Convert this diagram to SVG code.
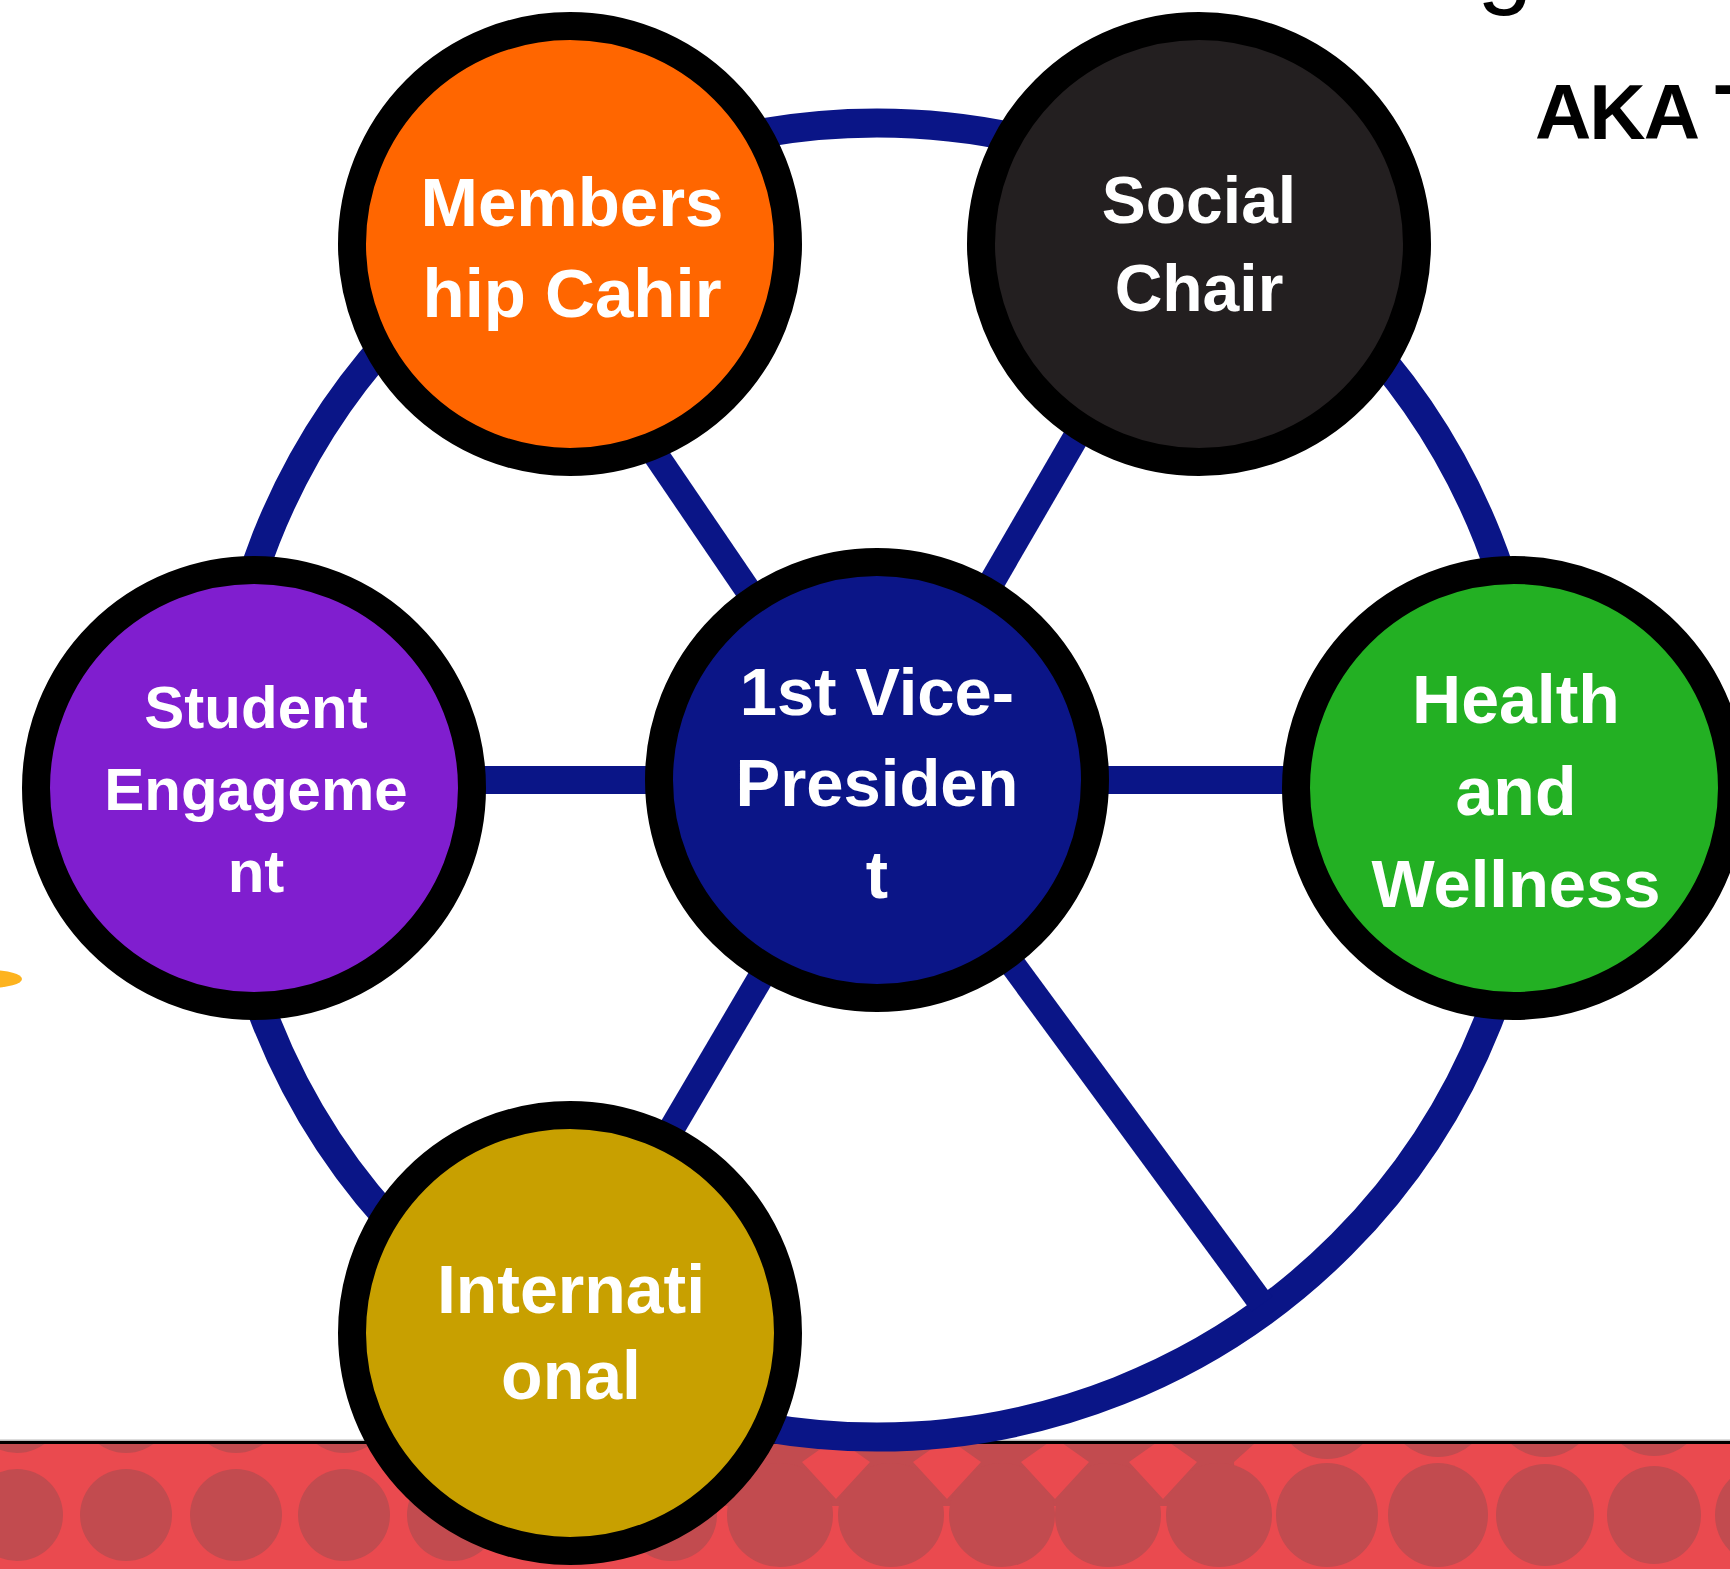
<svg xmlns="http://www.w3.org/2000/svg" width="1730" height="1569" viewBox="0 0 1730 1569">
<style>
.dot{fill:#C24B4F}
.lite{fill:#EA4A4F}
.ring{fill:none;stroke:#0A1587;stroke-width:29}
.spoke{stroke:#0A1587;stroke-width:26;stroke-linecap:butt}
.hspoke{stroke:#0A1587;stroke-width:28}
.node{stroke:#000;stroke-width:28}
.lbl{font-family:"Liberation Sans",Arial,sans-serif;font-weight:bold;fill:#fff;text-anchor:middle}
.head{font-family:"Liberation Sans",Arial,sans-serif;font-weight:bold;fill:#000}
</style>
<rect width="1730" height="1569" fill="#fff"/>

<g id="band">
  <rect x="0" y="1439.5" width="1730" height="1.5" fill="#bbb"/>
  <rect x="0" y="1441" width="1730" height="3" fill="#000"/>
  <rect x="0" y="1444" width="1730" height="125" fill="#EA4A4F"/>
  <clipPath id="bandclip"><rect x="0" y="1444" width="1730" height="125"/></clipPath>
  <g clip-path="url(#bandclip)">
    <g>
      <ellipse class="dot" cx="17" cy="1515" rx="46" ry="46"/>
      <ellipse class="dot" cx="126" cy="1515" rx="46" ry="46"/>
      <ellipse class="dot" cx="236" cy="1515" rx="46" ry="46"/>
      <ellipse class="dot" cx="344" cy="1515" rx="46" ry="46"/>
      <ellipse class="dot" cx="453" cy="1515" rx="46" ry="46"/>
      <ellipse class="dot" cx="562" cy="1515" rx="46" ry="46"/>
      <ellipse class="dot" cx="671" cy="1515" rx="46" ry="46"/>
      <ellipse class="dot" cx="17" cy="1407" rx="46" ry="46"/>
      <ellipse class="dot" cx="126" cy="1407" rx="46" ry="46"/>
      <ellipse class="dot" cx="236" cy="1407" rx="46" ry="46"/>
      <ellipse class="dot" cx="344" cy="1407" rx="46" ry="46"/>
      <ellipse class="dot" cx="453" cy="1407" rx="46" ry="46"/>
      <ellipse class="dot" cx="562" cy="1407" rx="46" ry="46"/>
    </g>
    <g>
      <polygon class="dot" points="725,1444 1254,1444 1234,1462 1236,1506 725,1506"/>
      <ellipse class="dot" cx="780" cy="1515" rx="53" ry="52"/>
      <ellipse class="dot" cx="891" cy="1515" rx="53" ry="52"/>
      <ellipse class="dot" cx="1002" cy="1515" rx="53" ry="52"/>
      <ellipse class="dot" cx="1108" cy="1515" rx="53" ry="52"/>
      <ellipse class="dot" cx="1219" cy="1515" rx="53" ry="52"/>
      <polygon class="lite" points="802,1462 836,1438 870,1462 836,1499"/>
      <polygon class="lite" points="913,1462 947,1438 981,1462 947,1499"/>
      <polygon class="lite" points="1021,1462 1055,1438 1089,1462 1055,1499"/>
      <polygon class="lite" points="1129,1462 1163,1438 1197,1462 1163,1499"/>
    </g>
    <g>
      <ellipse class="dot" cx="1327" cy="1515" rx="51" ry="52"/>
      <ellipse class="dot" cx="1438" cy="1515" rx="50" ry="52"/>
      <ellipse class="dot" cx="1545" cy="1515" rx="49" ry="51"/>
      <ellipse class="dot" cx="1654" cy="1515" rx="47" ry="49"/>
      <ellipse class="dot" cx="1762" cy="1515" rx="47" ry="49"/>
      <ellipse class="dot" cx="1327" cy="1407" rx="51" ry="52"/>
      <ellipse class="dot" cx="1438" cy="1405" rx="51" ry="52"/>
      <ellipse class="dot" cx="1545" cy="1405" rx="51" ry="52"/>
      <ellipse class="dot" cx="1654" cy="1404" rx="51" ry="52"/>
    </g>
  </g>
</g>

<g id="connectors">
  <circle class="ring" cx="877" cy="780" r="657"/>
  <line class="spoke" x1="877" y1="780" x2="530" y2="270"/>
  <line class="spoke" x1="877" y1="780" x2="1188" y2="244"/>
  <line class="hspoke" x1="255" y1="780" x2="877" y2="780"/>
  <line class="hspoke" x1="877" y1="780" x2="1515" y2="780"/>
  <line class="spoke" x1="877" y1="780" x2="562" y2="1315"/>
  <line class="spoke" x1="877" y1="780" x2="1262" y2="1304"/>
</g>

<g id="node-membership">
  <circle class="node" cx="570" cy="244" r="218" fill="#FF6600"/>
  <text class="lbl" font-size="69" x="572" y="226">Members</text>
  <text class="lbl" font-size="69" x="572" y="317">hip Cahir</text>
</g>

<g id="node-social">
  <circle class="node" cx="1199" cy="244" r="218" fill="#231F20"/>
  <text class="lbl" font-size="66" x="1199" y="223">Social</text>
  <text class="lbl" font-size="66" x="1199" y="311">Chair</text>
</g>

<g id="node-student">
  <circle class="node" cx="254" cy="788" r="218" fill="#801ECF"/>
  <text class="lbl" font-size="60" x="256" y="728">Student</text>
  <text class="lbl" font-size="60" x="256" y="810">Engageme</text>
  <text class="lbl" font-size="60" x="256" y="892">nt</text>
</g>

<g id="node-vp">
  <circle class="node" cx="877" cy="780" r="218" fill="#0B1587"/>
  <text class="lbl" font-size="67" x="877" y="715">1st Vice-</text>
  <text class="lbl" font-size="67" x="877" y="806">Presiden</text>
  <text class="lbl" font-size="67" x="877" y="898">t</text>
</g>

<g id="node-health">
  <circle class="node" cx="1514" cy="788" r="218" fill="#23B023"/>
  <text class="lbl" font-size="68" x="1516" y="723">Health</text>
  <text class="lbl" font-size="68" x="1516" y="815">and</text>
  <text class="lbl" font-size="67" x="1516" y="907">Wellness</text>
</g>

<g id="node-international">
  <circle class="node" cx="570" cy="1333" r="218" fill="#C8A000"/>
  <text class="lbl" font-size="68" x="571" y="1313">Internati</text>
  <text class="lbl" font-size="68" x="571" y="1399">onal</text>
</g>

<g id="decor">
  <text class="head" font-size="78" x="1535" y="139" letter-spacing="-2">AKA T</text>
  <text x="1477" y="-5" font-size="100" font-family="'Liberation Sans',Arial,sans-serif" font-weight="300" fill="#000">g</text>
  <ellipse cx="-10" cy="979" rx="32" ry="9" fill="#FDB31E"/>
</g>
</svg>
